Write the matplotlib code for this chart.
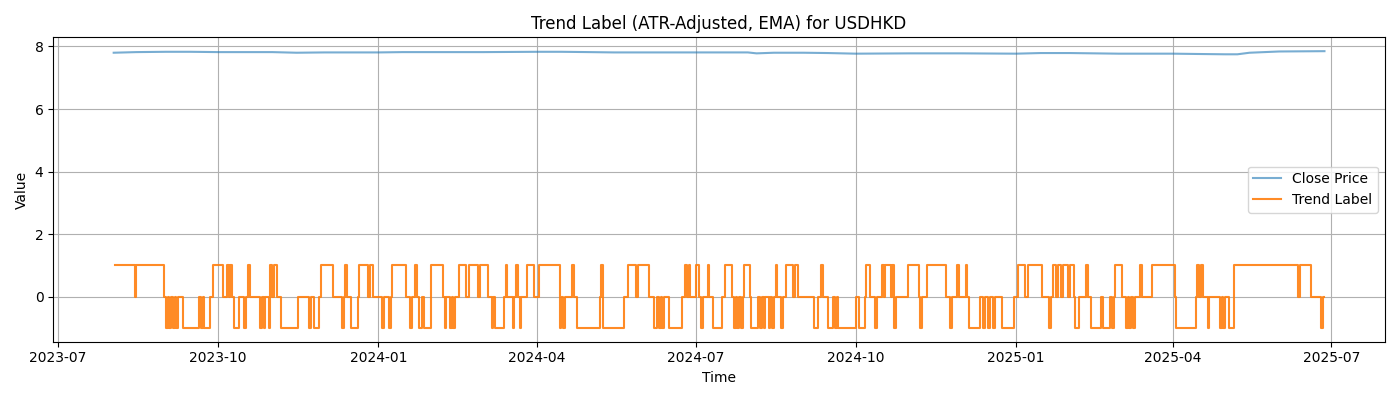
import matplotlib
matplotlib.use("Agg")
import matplotlib.pyplot as plt
import pandas as pd

# close price
price_dates = ['2023-08-02', '2023-08-15', '2023-09-01', '2023-09-15', '2023-10-01', '2023-10-15',
               '2023-11-01', '2023-11-15', '2023-12-01', '2023-12-15', '2024-01-01', '2024-01-15',
               '2024-02-01', '2024-03-01', '2024-04-01', '2024-04-15', '2024-05-01', '2024-05-15',
               '2024-06-01', '2024-07-01', '2024-07-31', '2024-08-05', '2024-08-15', '2024-09-01',
               '2024-09-15', '2024-10-01', '2024-11-01', '2024-12-01', '2025-01-01', '2025-01-15',
               '2025-02-01', '2025-03-01', '2025-04-01', '2025-04-15', '2025-05-01', '2025-05-08',
               '2025-05-15', '2025-06-01', '2025-06-27']
price_values = [7.80, 7.82, 7.83, 7.83, 7.82, 7.82,
                7.82, 7.80, 7.81, 7.81, 7.81, 7.82,
                7.82, 7.82, 7.83, 7.83, 7.82, 7.81,
                7.81, 7.81, 7.81, 7.78, 7.80, 7.80,
                7.79, 7.77, 7.78, 7.78, 7.77, 7.79,
                7.79, 7.77, 7.77, 7.76, 7.75, 7.75,
                7.80, 7.84, 7.85]

# trend label change points: (date, label) - label holds until the next date
label_points = [
    ('2023-08-03', 1), ('2023-08-14', 0), ('2023-08-15', 1), ('2023-08-31', 0), ('2023-09-01', -1),
    ('2023-09-02', 0), ('2023-09-03', -1), ('2023-09-04', 0), ('2023-09-05', -1), ('2023-09-06', 0),
    ('2023-09-07', -1), ('2023-09-08', 0), ('2023-09-11', -1), ('2023-09-20', 0), ('2023-09-21', -1),
    ('2023-09-22', 0), ('2023-09-23', -1), ('2023-09-26', 0), ('2023-09-28', 1), ('2023-10-04', 0),
    ('2023-10-06', 1), ('2023-10-07', 0), ('2023-10-08', 1), ('2023-10-09', 0), ('2023-10-10', -1),
    ('2023-10-13', 0), ('2023-10-16', -1), ('2023-10-17', 0), ('2023-10-18', 1), ('2023-10-19', 0),
    ('2023-10-25', -1), ('2023-10-26', 0), ('2023-10-27', -1), ('2023-10-28', 0), ('2023-10-30', -1),
    ('2023-10-31', 1), ('2023-11-01', 0), ('2023-11-02', 1), ('2023-11-04', 0), ('2023-11-06', -1),
    ('2023-11-16', 0), ('2023-11-22', -1), ('2023-11-23', 0), ('2023-11-25', -1), ('2023-11-28', 0),
    ('2023-11-29', 1), ('2023-12-06', 0), ('2023-12-11', -1), ('2023-12-12', 0), ('2023-12-13', 1),
    ('2023-12-14', 0), ('2023-12-16', -1), ('2023-12-20', 0), ('2023-12-21', 1), ('2023-12-26', 0),
    ('2023-12-27', 1), ('2023-12-29', 0),
    ('2024-01-03', -1), ('2024-01-04', 0), ('2024-01-07', -1), ('2024-01-08', 0), ('2024-01-09', 1),
    ('2024-01-17', 0), ('2024-01-19', -1), ('2024-01-20', 0), ('2024-01-22', 1), ('2024-01-23', 0),
    ('2024-01-24', -1), ('2024-01-26', 0), ('2024-01-27', -1), ('2024-01-31', 1), ('2024-02-07', 0),
    ('2024-02-08', -1), ('2024-02-09', 0), ('2024-02-11', -1), ('2024-02-12', 0), ('2024-02-13', -1),
    ('2024-02-14', 0), ('2024-02-16', 1), ('2024-02-20', 0), ('2024-02-22', 1), ('2024-02-27', 0),
    ('2024-02-28', 1), ('2024-03-04', 0), ('2024-03-06', -1), ('2024-03-07', 0), ('2024-03-08', -1),
    ('2024-03-13', 0), ('2024-03-14', 1), ('2024-03-15', 0), ('2024-03-18', -1), ('2024-03-19', 0),
    ('2024-03-20', 1), ('2024-03-21', 0), ('2024-03-22', -1), ('2024-03-23', 0), ('2024-03-26', 1),
    ('2024-03-30', 0), ('2024-04-02', 1), ('2024-04-14', -1), ('2024-04-15', 0), ('2024-04-16', -1),
    ('2024-04-17', 0), ('2024-04-21', 1), ('2024-04-22', 0), ('2024-04-24', -1), ('2024-05-07', 0),
    ('2024-05-08', 1), ('2024-05-09', -1), ('2024-05-21', 0), ('2024-05-23', 1), ('2024-05-28', 0),
    ('2024-05-29', 1), ('2024-06-04', 0), ('2024-06-07', -1), ('2024-06-09', 0), ('2024-06-10', -1),
    ('2024-06-11', 0), ('2024-06-12', -1), ('2024-06-13', 0), ('2024-06-16', -1), ('2024-06-23', 0),
    ('2024-06-25', 1), ('2024-06-26', 0), ('2024-06-27', 1), ('2024-06-28', 0), ('2024-07-01', 1),
    ('2024-07-03', 0), ('2024-07-04', -1), ('2024-07-05', 0), ('2024-07-08', 1), ('2024-07-09', 0),
    ('2024-07-11', -1), ('2024-07-16', 0), ('2024-07-18', 1), ('2024-07-22', 0), ('2024-07-23', -1),
    ('2024-07-24', 0), ('2024-07-25', -1), ('2024-07-26', 0), ('2024-07-27', -1), ('2024-07-28', 0),
    ('2024-07-29', 1), ('2024-08-01', 0), ('2024-08-02', -1), ('2024-08-06', 0), ('2024-08-07', -1),
    ('2024-08-08', 0), ('2024-08-09', -1), ('2024-08-10', 0), ('2024-08-12', -1), ('2024-08-13', 0),
    ('2024-08-14', -1), ('2024-08-15', 0), ('2024-08-16', 1), ('2024-08-17', 0), ('2024-08-19', -1),
    ('2024-08-20', 0), ('2024-08-22', 1), ('2024-08-26', 0), ('2024-08-27', 1), ('2024-08-29', 0),
    ('2024-09-07', -1), ('2024-09-09', 0), ('2024-09-11', 1), ('2024-09-12', 0), ('2024-09-15', -1),
    ('2024-09-18', 0), ('2024-09-19', -1), ('2024-09-20', 0), ('2024-09-21', -1), ('2024-10-01', 0),
    ('2024-10-03', -1), ('2024-10-06', 0), ('2024-10-07', 1), ('2024-10-09', 0), ('2024-10-12', -1),
    ('2024-10-13', 0), ('2024-10-16', 1), ('2024-10-17', 0), ('2024-10-18', 1), ('2024-10-21', 0),
    ('2024-10-22', 1), ('2024-10-23', -1), ('2024-10-24', 0), ('2024-10-31', 1), ('2024-11-06', 0),
    ('2024-11-07', -1), ('2024-11-08', 0), ('2024-11-11', 1), ('2024-11-22', 0), ('2024-11-24', -1),
    ('2024-11-25', 0), ('2024-11-28', 1), ('2024-11-29', 0), ('2024-12-03', 1), ('2024-12-04', 0),
    ('2024-12-05', -1), ('2024-12-11', 0), ('2024-12-13', -1), ('2024-12-14', 0), ('2024-12-16', -1),
    ('2024-12-17', 0), ('2024-12-19', -1), ('2024-12-20', 0), ('2024-12-24', -1), ('2024-12-31', 0),
    ('2025-01-02', 1), ('2025-01-06', 0), ('2025-01-08', 1), ('2025-01-16', 0), ('2025-01-20', -1),
    ('2025-01-21', 0), ('2025-01-22', 1), ('2025-01-24', 0), ('2025-01-25', 1), ('2025-01-27', 0),
    ('2025-01-28', 1), ('2025-01-31', 0), ('2025-02-01', 1), ('2025-02-03', 0), ('2025-02-04', -1),
    ('2025-02-06', 0), ('2025-02-10', 1), ('2025-02-11', 0), ('2025-02-13', -1), ('2025-02-19', 0),
    ('2025-02-20', -1), ('2025-02-24', 0), ('2025-02-25', -1), ('2025-02-26', 0), ('2025-02-27', 1),
    ('2025-03-03', 0), ('2025-03-05', -1), ('2025-03-06', 0), ('2025-03-07', -1), ('2025-03-08', 0),
    ('2025-03-09', -1), ('2025-03-10', 0), ('2025-03-13', 1), ('2025-03-14', 0), ('2025-03-20', 1),
    ('2025-04-02', 0), ('2025-04-03', -1), ('2025-04-14', 0), ('2025-04-15', 1), ('2025-04-16', 0),
    ('2025-04-17', 1), ('2025-04-18', 0), ('2025-04-21', -1), ('2025-04-22', 0), ('2025-04-28', -1),
    ('2025-04-29', 0), ('2025-04-30', -1), ('2025-05-01', 0), ('2025-05-03', -1), ('2025-05-06', 1),
    ('2025-06-12', 0), ('2025-06-13', 1), ('2025-06-19', 0), ('2025-06-25', -1), ('2025-06-26', 0),
    ('2025-06-27', 0),
]

price = pd.Series(price_values, index=pd.to_datetime(price_dates))
label = pd.Series([v for d, v in label_points],
                  index=pd.to_datetime([d for d, v in label_points]))

fig, ax = plt.subplots(figsize=(14, 4), dpi=100)
ax.plot(price.index, price.values, label='Close Price', color='tab:blue', alpha=0.6)
ax.plot(label.index, label.values, label='Trend Label', color='tab:orange',
        alpha=0.9, drawstyle='steps-post')
ax.set_title('Trend Label (ATR-Adjusted, EMA) for USDHKD')
ax.set_xlabel('Time')
ax.set_ylabel('Value')
ax.legend(loc='center right')
ax.grid(True)
plt.tight_layout()
plt.savefig('out.png')
